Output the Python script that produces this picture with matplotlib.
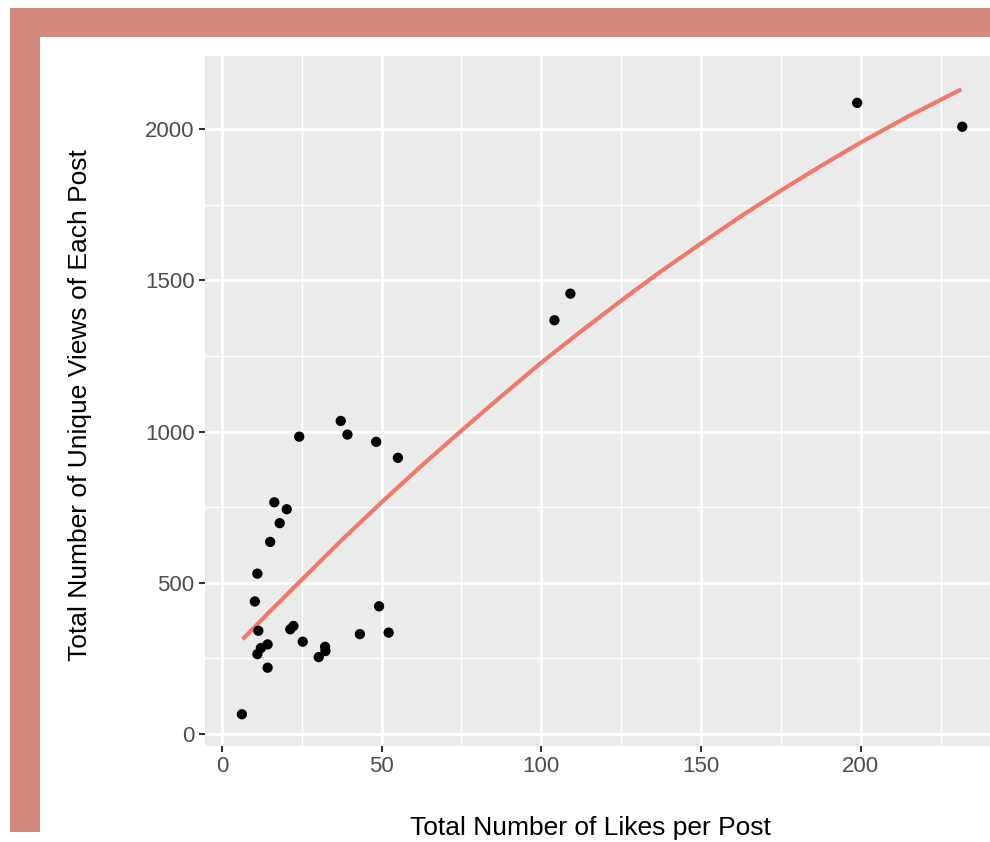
import matplotlib
matplotlib.use("Agg")
import matplotlib.pyplot as plt
from matplotlib.patches import Rectangle
from matplotlib.ticker import MultipleLocator

plt.rcParams['font.family'] = ['Liberation Sans', 'DejaVu Sans']

likes = [37.2, 24.2, 39.3, 48.3, 55.1, 16.4, 20.3, 18.1, 15.1, 11.1, 10.3, 49.2,
         11.4, 21.4, 22.4, 43.2, 52.2, 25.3, 14.3, 12.2, 11.1, 32.3, 32.4, 30.3,
         14.3, 6.25, 109.1, 104.1, 198.9, 231.8]
views = [1035, 983, 990, 966, 913, 766, 743, 697, 635, 530, 438, 422,
         341, 346, 357, 330, 335, 305, 296, 284, 264, 288, 274, 254,
         219, 65, 1456, 1368, 2087, 2008]

fit_x = [6.5, 15, 25, 37.5, 50, 62.5, 75, 87.5, 100, 112.5, 125, 137.5,
         150, 162.5, 175, 187.5, 200, 215, 231.5]
fit_y = [313, 405, 510, 641, 766, 887, 1003, 1117, 1228, 1332, 1433, 1530,
         1622, 1712, 1797, 1878, 1956, 2043, 2132]

xticks = [0, 50, 100, 150, 200]
yticks = [0, 500, 1000, 1500, 2000]

W, H = 990, 842
fig = plt.figure(figsize=(W / 100, H / 100), dpi=100)
fig.patch.set_facecolor('white')

frame_col = '#D4897F'
fig.patches.append(Rectangle((10 / W, 1 - 37 / H), 1.0, 29 / H, transform=fig.transFigure,
                             facecolor=frame_col, edgecolor='none', zorder=0))
fig.patches.append(Rectangle((10 / W, 1 - 832 / H), 30 / W, 824 / H, transform=fig.transFigure,
                             facecolor=frame_col, edgecolor='none', zorder=0))

left, right, top, bottom = 205, 999, 56, 746
ax = fig.add_axes([left / W, 1 - bottom / H, (right - left) / W, (bottom - top) / H])
ax.set_facecolor('#EBEBEB')
for s in ax.spines.values():
    s.set_visible(False)

ax.set_xlim(-5.3, 243.3)
ax.set_ylim(-40, 2242)
ax.set_xticks(xticks)
ax.set_yticks(yticks)
ax.xaxis.set_minor_locator(MultipleLocator(25))
ax.yaxis.set_minor_locator(MultipleLocator(250))
ax.grid(which='major', color='white', linewidth=2.0)
ax.grid(which='minor', color='white', linewidth=1.0)
ax.set_axisbelow(True)
ax.tick_params(which='major', length=4.5, width=1.5, color='#333333', labelcolor='#4D4D4D',
               labelsize=16, pad=3)
ax.tick_params(which='minor', length=0)

ax.plot(fit_x, fit_y, color='#EE7A6C', linewidth=3, solid_capstyle='butt', zorder=3)
ax.scatter(likes, views, s=55, color='black', edgecolors='none', zorder=4)

fig.text(590 / W, 1 - 828 / H, 'Total Number of Likes per Post', ha='center', va='center',
         fontsize=19, color='black')
fig.text(80 / W, 1 - 405 / H, 'Total Number of Unique Views of Each Post', ha='center',
         va='center', rotation=90, fontsize=19, color='black')

fig.savefig('out.png', dpi=100)
